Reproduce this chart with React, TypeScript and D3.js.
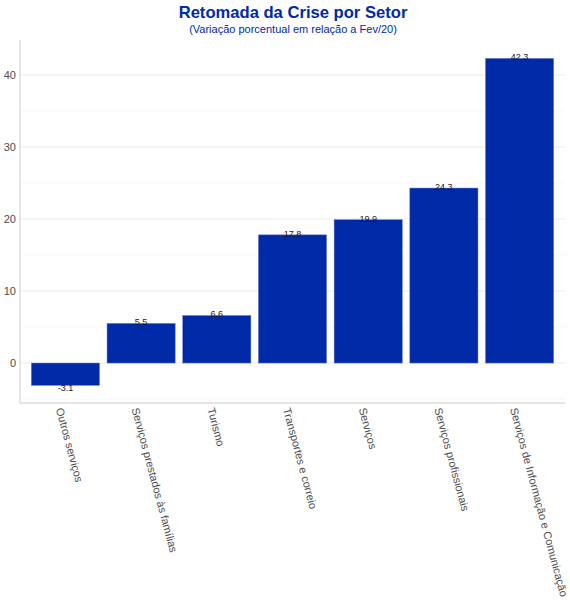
import * as d3 from "d3";
import { useEffect, useRef } from "react";

const sectors = [
    "Outros serviços",
    "Serviços prestados às famílias",
    "Turismo",
    "Transportes e correio",
    "Serviços",
    "Serviços profissionais",
    "Serviços de Informação e Comunicação",
];
const variation = [-3.1, 5.5, 6.6, 17.8, 19.9, 24.3, 42.3];
const yTicks = [0, 10, 20, 30, 40];
const yMinor = [-5, 5, 15, 25, 35];

const blue = "#002aa8";

export default function App() {
    const ref = useRef<SVGSVGElement | null>(null);

    useEffect(() => {
        if (!ref.current) return;
        const width = 570;
        const height = 600;
        const margin = { top: 40, right: 5, bottom: 197, left: 20 };

        const svg = d3.select(ref.current);
        svg.selectAll("*").remove();

        const x = d3.scaleBand()
            .domain(sectors)
            .range([margin.left, width - margin.right])
            .paddingInner(0.1)
            .paddingOuter(0.15);

        const y = d3.scaleLinear()
            .domain([-5.55, 44.86])
            .range([height - margin.bottom, margin.top]);

        // title
        svg.append("text")
            .attr("x", 293)
            .attr("y", 18)
            .attr("text-anchor", "middle")
            .style("font-family", "Liberation Sans, Arial, sans-serif")
            .style("font-size", "16.6px")
            .style("font-weight", "bold")
            .attr("fill", blue)
            .text("Retomada da Crise por Setor");

        svg.append("text")
            .attr("x", 293)
            .attr("y", 33)
            .attr("text-anchor", "middle")
            .style("font-family", "Liberation Sans, Arial, sans-serif")
            .style("font-size", "11px")
            .attr("fill", blue)
            .text("(Variação porcentual em relação a Fev/20)");

        // grid
        const grid = svg.append("g");
        grid.selectAll("line.minor")
            .data(yMinor)
            .join("line")
            .attr("x1", margin.left)
            .attr("x2", width - margin.right)
            .attr("y1", (d) => y(d))
            .attr("y2", (d) => y(d))
            .attr("stroke", "#f3f3f3")
            .attr("stroke-width", 0.6);
        grid.selectAll("line.major")
            .data(yTicks)
            .join("line")
            .attr("x1", margin.left)
            .attr("x2", width - margin.right)
            .attr("y1", (d) => y(d))
            .attr("y2", (d) => y(d))
            .attr("stroke", "#ebebeb")
            .attr("stroke-width", 1);

        // bars
        svg.append("g")
            .selectAll("rect")
            .data(variation)
            .join("rect")
            .attr("x", (_, i) => x(sectors[i])!)
            .attr("y", (d) => y(Math.max(0, d)))
            .attr("width", x.bandwidth())
            .attr("height", (d) => Math.abs(y(d) - y(0)))
            .attr("fill", blue)
            .attr("stroke", "#5d78c8")
            .attr("stroke-width", 0.5);

        // value labels
        svg.append("g")
            .selectAll("text")
            .data(variation)
            .join("text")
            .attr("x", (_, i) => x(sectors[i])! + x.bandwidth() / 2)
            .attr("y", (d) => y(d))
            .attr("dy", (d) => (d < 0 ? "0.65em" : "0.2em"))
            .attr("text-anchor", "middle")
            .style("font-family", "Liberation Sans, Arial, sans-serif")
            .style("font-size", "9px")
            .attr("fill", "#1a1a1a")
            .text((d) => d.toFixed(1));

        // axes lines
        svg.append("line")
            .attr("x1", margin.left)
            .attr("x2", margin.left)
            .attr("y1", margin.top)
            .attr("y2", height - margin.bottom)
            .attr("stroke", "#cccccc");
        svg.append("line")
            .attr("x1", margin.left)
            .attr("x2", width - margin.right)
            .attr("y1", height - margin.bottom)
            .attr("y2", height - margin.bottom)
            .attr("stroke", "#cccccc");

        // y tick labels
        svg.append("g")
            .selectAll("text")
            .data(yTicks)
            .join("text")
            .attr("x", margin.left - 4)
            .attr("y", (d) => y(d))
            .attr("dy", "0.35em")
            .attr("text-anchor", "end")
            .style("font-family", "Liberation Sans, Arial, sans-serif")
            .style("font-size", "11px")
            .attr("fill", "#4d4d4d")
            .text((d) => d);

        // x labels
        svg.append("g")
            .selectAll("text")
            .data(sectors)
            .join("text")
            .attr("transform", (d) => `translate(${x(d)! + x.bandwidth() / 2 - 2},${height - margin.bottom + 4}) rotate(75)`)
            .attr("dy", "0.71em")
            .attr("text-anchor", "start")
            .style("font-family", "Liberation Sans, Arial, sans-serif")
            .style("font-size", "11px")
            .attr("fill", "#4d4d4d")
            .text((d) => d);
    }, []);

    return (
        <div style={{ position: "absolute", left: 0, top: 0 }}>
            <svg ref={ref} width={570} height={600} style={{ display: "block" }}></svg>
        </div>
    );
}
